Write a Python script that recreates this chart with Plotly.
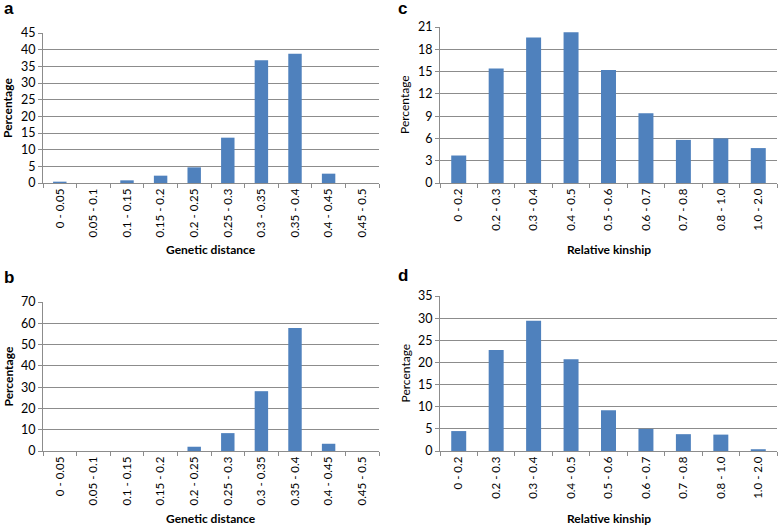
import plotly.graph_objects as go

gd_cats = ["0 - 0.05", "0.05 - 0.1", "0.1 - 0.15", "0.15 - 0.2", "0.2 - 0.25",
           "0.25 - 0.3", "0.3 - 0.35", "0.35 - 0.4", "0.4 - 0.45", "0.45 - 0.5"]
rk_cats = ["0 - 0.2", "0.2 - 0.3", "0.3 - 0.4", "0.4 - 0.5", "0.5 - 0.6",
           "0.6 - 0.7", "0.7 - 0.8", "0.8 - 1.0", "1.0 - 2.0"]

a_vals = [0.4, 0.0, 0.8, 2.2, 4.7, 13.6, 36.8, 38.8, 2.8, 0.0]
b_vals = [0.0, 0.0, 0.0, 0.0, 2.0, 8.4, 28.1, 57.8, 3.4, 0.0]
c_vals = [3.7, 15.4, 19.6, 20.3, 15.2, 9.4, 5.8, 6.0, 4.7]
d_vals = [4.5, 22.8, 29.4, 20.7, 9.2, 5.0, 3.8, 3.7, 0.4]

BAR = "#4F81BD"
GRID = "#8C8C8C"
FONT = "Lato, Liberation Sans, sans-serif"

W, H = 778, 526

def px_dom_x(x0, x1):
    return [x0 / W, x1 / W]

def px_dom_y(top, bottom):
    return [1 - bottom / H, 1 - top / H]

panels = [
    ("a", gd_cats, a_vals, (43, 379), (33, 183), 45, 5, "Genetic distance", True),
    ("c", rk_cats, c_vals, (440, 777), (27, 183), 21, 3, "Relative kinship", False),
    ("b", gd_cats, b_vals, (43, 379), (302, 451), 70, 10, "Genetic distance", True),
    ("d", rk_cats, d_vals, (440, 777), (296, 451), 35, 5, "Relative kinship", False),
]

fig = go.Figure()
layout = dict(
    width=W, height=H,
    margin=dict(l=0, r=0, t=0, b=0, autoexpand=False),
    paper_bgcolor="white", plot_bgcolor="white",
    showlegend=False, bargap=0.6,
    font=dict(family=FONT, size=11, color="#000000"),
)
annotations = []
letter_pos = {"a": (2, 9), "c": (396, 8), "b": (2, 277), "d": (396, 275)}

for i, (name, cats, vals, xd, yd, ymax, dt, xtitle, ybold) in enumerate(panels):
    k = "" if i == 0 else str(i + 1)
    fig.add_trace(go.Bar(x=cats, y=vals, marker=dict(color=BAR, line=dict(width=0)),
                         xaxis="x" + k, yaxis="y" + k, cliponaxis=False))
    layout["xaxis" + k] = dict(
        domain=px_dom_x(*xd), anchor="y" + k, type="category", automargin=False,
        showline=True, linecolor=GRID, linewidth=1,
        ticks="outside", tickson="boundaries", ticklen=4, tickcolor=GRID,
        tickangle=-90, tickfont=dict(size=11.5, family=FONT),
        showgrid=False, fixedrange=True,
    )
    layout["yaxis" + k] = dict(
        domain=px_dom_y(*yd), anchor="x" + k, range=[0, ymax], dtick=dt,
        automargin=False,
        showline=True, linecolor=GRID, linewidth=1,
        ticks="outside", ticklen=4, tickcolor=GRID,
        showgrid=True, gridcolor=GRID, gridwidth=1, zeroline=False,
        tickfont=dict(size=12.5, family=FONT), fixedrange=True,
    )
    xc = (xd[0] + xd[1]) / 2
    ytitle_y = yd[1] + 67
    annotations.append(dict(
        text="<b>" + xtitle + "</b>", x=xc / W, y=1 - ytitle_y / H,
        xref="paper", yref="paper", showarrow=False,
        font=dict(size=12, family=FONT), xanchor="center", yanchor="middle"))
    ytxt = "<b>Percentage</b>" if ybold else "Percentage"
    yx = 8 if xd[0] < 100 else 397 + 8
    annotations.append(dict(
        text=ytxt, x=yx / W, y=1 - ((yd[0] + yd[1]) / 2) / H,
        xref="paper", yref="paper", showarrow=False, textangle=-90,
        font=dict(size=12, family=FONT), xanchor="center", yanchor="middle"))
    lx, ly = letter_pos[name]
    annotations.append(dict(
        text="<b>" + name + "</b>", x=lx / W, y=1 - ly / H,
        xref="paper", yref="paper", showarrow=False,
        font=dict(size=17, family="Liberation Sans, Arial, sans-serif"),
        xanchor="left", yanchor="middle"))

layout["annotations"] = annotations
fig.update_layout(**layout)
fig.write_html("out.html",
               config={"displayModeBar": False, "staticPlot": True},
               post_script="document.body.style.margin='0';document.body.style.padding='0';")
